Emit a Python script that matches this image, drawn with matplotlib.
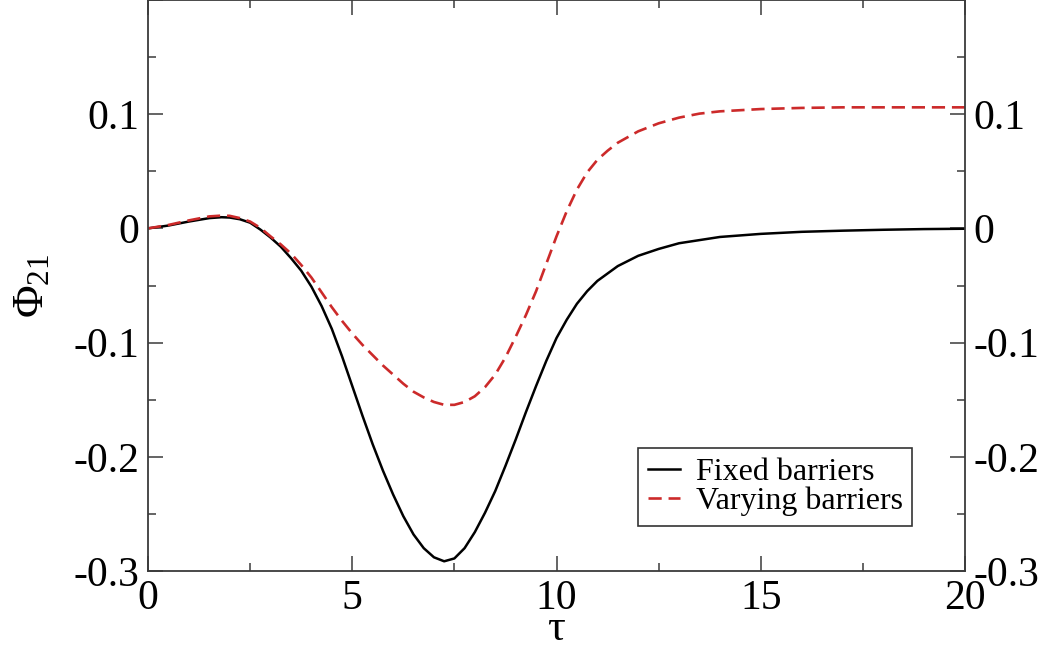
import matplotlib
matplotlib.use("Agg")
import matplotlib.pyplot as plt
from matplotlib.ticker import FixedLocator, FixedFormatter

plt.rcParams['font.family'] = ['Liberation Serif', 'DejaVu Serif']
plt.rcParams['mathtext.fontset'] = 'custom'
plt.rcParams['mathtext.rm'] = 'Liberation Serif'
plt.rcParams['mathtext.it'] = 'Liberation Serif:italic'
plt.rcParams['axes.unicode_minus'] = False

# ---- data ----
tau_fixed = [0.0, 0.5, 1.0, 1.5, 1.8, 2.0, 2.25, 2.5, 2.75, 3.0, 3.25, 3.5, 3.75, 4.0,
             4.25, 4.5, 4.75, 5.0, 5.25, 5.5, 5.75, 6.0, 6.25, 6.5, 6.75, 7.0, 7.25,
             7.5, 7.75, 8.0, 8.25, 8.5, 8.75, 9.0, 9.25, 9.5, 9.75, 10.0, 10.25, 10.5,
             10.75, 11.0, 11.5, 12.0, 12.5, 13.0, 14.0, 15.0, 16.0, 17.0, 18.0, 19.0, 20.0]
phi_fixed = [0.0, 0.0025, 0.006, 0.009, 0.0098, 0.0095, 0.008, 0.005, -0.001, -0.008,
             -0.016, -0.026, -0.037, -0.051, -0.068, -0.088, -0.112, -0.138, -0.164,
             -0.189, -0.212, -0.233, -0.252, -0.268, -0.280, -0.288, -0.2915, -0.289,
             -0.280, -0.266, -0.249, -0.230, -0.208, -0.185, -0.161, -0.138, -0.116,
             -0.096, -0.080, -0.066, -0.055, -0.046, -0.033, -0.024, -0.018, -0.013,
             -0.0075, -0.0048, -0.003, -0.002, -0.0012, -0.0006, -0.0003]

tau_vary = [0.0, 0.5, 1.0, 1.5, 1.8, 2.0, 2.25, 2.5, 2.75, 3.0, 3.25, 3.5, 3.75, 4.0,
            4.25, 4.5, 4.75, 5.0, 5.25, 5.5, 5.75, 6.0, 6.25, 6.5, 6.75, 7.0, 7.25,
            7.5, 7.75, 8.0, 8.25, 8.5, 8.75, 9.0, 9.25, 9.5, 9.75, 10.0, 10.25, 10.5,
            10.75, 11.0, 11.25, 11.5, 11.75, 12.0, 12.5, 13.0, 13.5, 14.0, 15.0, 16.0,
            17.0, 18.0, 19.0, 20.0]
phi_vary = [0.0, 0.003, 0.007, 0.0105, 0.0112, 0.011, 0.009, 0.006, 0.0005, -0.007,
            -0.014, -0.022, -0.032, -0.043, -0.056, -0.069, -0.081, -0.092, -0.102,
            -0.111, -0.120, -0.128, -0.136, -0.143, -0.148, -0.152, -0.1545, -0.1545,
            -0.152, -0.147, -0.139, -0.128, -0.113, -0.095, -0.076, -0.055, -0.031,
            -0.007, 0.015, 0.034, 0.049, 0.060, 0.068, 0.075, 0.080, 0.085, 0.092,
            0.097, 0.1005, 0.1025, 0.1045, 0.1055, 0.106, 0.106, 0.106, 0.106]

xticks = [0, 5, 10, 15, 20]
xtick_labels = ['0', '5', '10', '15', '20']
xminor = [2.5, 7.5, 12.5, 17.5]
yticks = [-0.3, -0.2, -0.1, 0.0, 0.1]
ytick_labels = ['-0.3', '-0.2', '-0.1', '0', '0.1']
yminor = [-0.25, -0.15, -0.05, 0.05, 0.15]

label_fixed = 'Fixed barriers'
label_vary = 'Varying barriers'

# ---- figure ----
fig = plt.figure(figsize=(10.55, 6.51), dpi=100)
ax = fig.add_axes([148/1055, 80/651, 817/1055, 571/651])

ax.plot(tau_fixed, phi_fixed, color='black', lw=1.8, label=label_fixed)
ax.plot(tau_vary, phi_vary, color='#cc2a2a', lw=1.9, ls=(0, (5, 2.6)), label=label_vary)

ax.set_xlim(0, 20)
ax.set_ylim(-0.3, 0.2)

ax.xaxis.set_major_locator(FixedLocator(xticks))
ax.xaxis.set_major_formatter(FixedFormatter(xtick_labels))
ax.xaxis.set_minor_locator(FixedLocator(xminor))
ax.yaxis.set_major_locator(FixedLocator(yticks + [0.2]))
ax.yaxis.set_major_formatter(FixedFormatter(ytick_labels + ['']))
ax.yaxis.set_minor_locator(FixedLocator(yminor))

spine_col = '#3a3a3a'
for s in ax.spines.values():
    s.set_color(spine_col)
    s.set_linewidth(1.3)

ax.tick_params(which='both', direction='in', top=True, right=True,
               labelright=True, color=spine_col, width=1.1)
ax.tick_params(which='major', length=11, labelsize=30, pad=6)
ax.tick_params(which='minor', length=6)

ax.set_ylabel(r'$\mathrm{\Phi}_{21}$', fontsize=32)
ax.yaxis.set_label_coords(-0.117, 0.5)
ax.set_xlabel('τ', fontsize=32)
ax.xaxis.set_label_coords(0.5, -0.067)

leg = ax.legend(loc='lower left', bbox_to_anchor=(0.5998, 0.0788), borderaxespad=0,
                fontsize=23, frameon=True, fancybox=False, edgecolor='black',
                handlelength=1.0, handletextpad=0.5, labelspacing=0.0,
                borderpad=0.3)
leg.get_frame().set_linewidth(1.2)

fig.savefig('out.png', dpi=100)
